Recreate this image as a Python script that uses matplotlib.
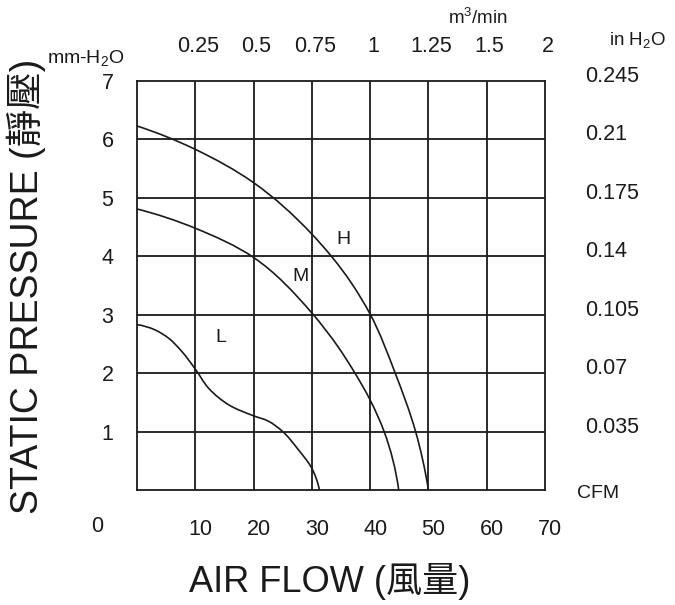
import matplotlib
matplotlib.use("Agg")
import matplotlib.pyplot as plt
import numpy as np
from matplotlib.path import Path
from matplotlib.patches import PathPatch
from matplotlib.transforms import ScaledTranslation

plt.rcParams["font.family"] = ["Liberation Sans", "Noto Sans CJK TC", "DejaVu Sans"]
plt.rcParams["mathtext.fontset"] = "custom"
plt.rcParams["mathtext.rm"] = "Liberation Sans"
plt.rcParams["mathtext.it"] = "Liberation Sans"

# curves: (CFM, mm-H2O)
h_cfm = [0, 10, 20, 30, 36.8, 40, 44.3, 47.8, 50]
h_mm = [6.23, 5.83, 5.26, 4.38, 3.54, 3.01, 2.0, 1.0, 0.0]
m_cfm = [0, 10, 20, 30, 34.5, 37.4, 40, 42.4, 44.9]
m_mm = [4.81, 4.48, 3.98, 3.03, 2.45, 2.0, 1.54, 1.0, 0.0]
l_cfm = [0, 3.1, 5.4, 7.7, 10, 12.3, 15.7, 20, 22.5, 25, 27.6, 30, 31.3]
l_mm = [2.83, 2.74, 2.60, 2.37, 2.07, 1.74, 1.46, 1.27, 1.18, 1.0, 0.70, 0.37, 0.0]

curve_names = ["H", "M", "L"]
label_pos = [(35.5, 4.29), (28.1, 3.66), (14.3, 2.61)]

cfm_ticks = [10, 20, 30, 40, 50, 60, 70]
m3min_labels = ["0.25", "0.5", "0.75", "1", "1.25", "1.5", "2"]
mm_ticks = [1, 2, 3, 4, 5, 6, 7]
inh2o_labels = ["0.035", "0.07", "0.105", "0.14", "0.175", "0.21", "0.245"]

INK = "#1a1a1a"
TICK_FS = 15.5


def smooth_path(xs, ys, scale=(5.83, 58.4)):
    # chord-length (Bessel tangent) spline through the read points, as cubic Beziers;
    # worked out in roughly pixel units so the tangents are not skewed by the aspect
    sc = np.array(scale)
    q = np.column_stack([xs, ys]).astype(float) * sc
    seg = np.diff(q, axis=0)
    d = np.hypot(seg[:, 0], seg[:, 1])
    s = seg / d[:, None]
    m = np.zeros_like(q)
    for i in range(1, len(q) - 1):
        w = d[i - 1] + d[i]
        m[i] = (d[i] * s[i - 1] + d[i - 1] * s[i]) / w
    m[0] = 2 * s[0] - m[1]
    m[-1] = 2 * s[-1] - m[-2]
    verts, codes = [q[0]], [Path.MOVETO]
    for i in range(len(q) - 1):
        verts += [q[i] + m[i] * d[i] / 3, q[i + 1] - m[i + 1] * d[i] / 3, q[i + 1]]
        codes += [Path.CURVE4] * 3
    return Path(np.array(verts) / sc, codes)


fig = plt.figure(figsize=(6.75, 6.05), dpi=100)
ax = fig.add_axes([137 / 675, 1 - 490 / 605, 408 / 675, 409 / 605])
ax.set_xlim(0, 70)
ax.set_ylim(0, 7)

LW = 1.3
for x in cfm_ticks[:-1]:
    ax.axvline(x, color=INK, lw=LW)
for y in mm_ticks[:-1]:
    ax.axhline(y, color=INK, lw=LW)
for s in ax.spines.values():
    s.set_color(INK)
    s.set_linewidth(LW)

for xs, ys in [(h_cfm, h_mm), (m_cfm, m_mm), (l_cfm, l_mm)]:
    ax.add_patch(PathPatch(smooth_path(xs, ys), facecolor="none", edgecolor=INK, lw=1.2))
for name, (x, y) in zip(curve_names, label_pos):
    ax.text(x, y, name, ha="center", va="center", fontsize=14, color=INK)

# bottom CFM ticks, top m3/min labels
ax.set_xticks(cfm_ticks)
ax.set_xticklabels([str(v) for v in cfm_ticks])
ax.tick_params(axis="x", length=0, labelsize=TICK_FS, pad=21, labelcolor=INK,
               top=False, labeltop=False)
for t in ax.get_xticklabels():
    t.set_transform(t.get_transform() + ScaledTranslation(5 / 100, 0, fig.dpi_scale_trans))
ax.text(-6.9, -0.63, "0", ha="center", va="center", fontsize=TICK_FS, color=INK)

top = ax.secondary_xaxis("top")
top.set_xticks(cfm_ticks)
top.set_xticklabels(m3min_labels)
top.tick_params(length=0, labelsize=TICK_FS, pad=17, labelcolor=INK)
top.spines["top"].set_visible(False)
for t in top.get_xticklabels():
    t.set_transform(t.get_transform() + ScaledTranslation(3 / 100, 0, fig.dpi_scale_trans))

ax.set_yticks(mm_ticks)
ax.set_yticklabels([str(v) for v in mm_ticks])
ax.tick_params(axis="y", length=0, labelsize=TICK_FS, pad=17, labelcolor=INK)

right = ax.secondary_yaxis("right")
right.set_yticks(mm_ticks)
right.set_yticklabels(inh2o_labels)
right.tick_params(length=0, labelsize=TICK_FS, pad=29, labelcolor=INK)
right.spines["right"].set_visible(False)
for t in right.get_yticklabels():
    t.set_transform(t.get_transform() + ScaledTranslation(0, 7 / 100, fig.dpi_scale_trans))

# unit captions
fig.text(86 / 675, 1 - 58 / 605, r"mm-H$_2$O", ha="center", va="center", fontsize=14, color=INK)
fig.text(478 / 675, 1 - 18 / 605, r"m$^3$/min", ha="center", va="center", fontsize=13.5, color=INK)
fig.text(637 / 675, 1 - 40 / 605, r"in H$_2$O", ha="center", va="center", fontsize=13.5, color=INK)
fig.text(598 / 675, 1 - 493 / 605, "CFM", ha="center", va="center", fontsize=14, color=INK)

fig.text(26 / 675, 1 - 286 / 605, "STATIC PRESSURE (靜壓)", rotation=90,
         ha="center", va="center", fontsize=27, color=INK)
fig.text(330 / 675, 1 - 582 / 605, "AIR FLOW (風量)", ha="center", va="center",
         fontsize=26, color=INK)

fig.savefig("out.png", dpi=100, facecolor="white")
